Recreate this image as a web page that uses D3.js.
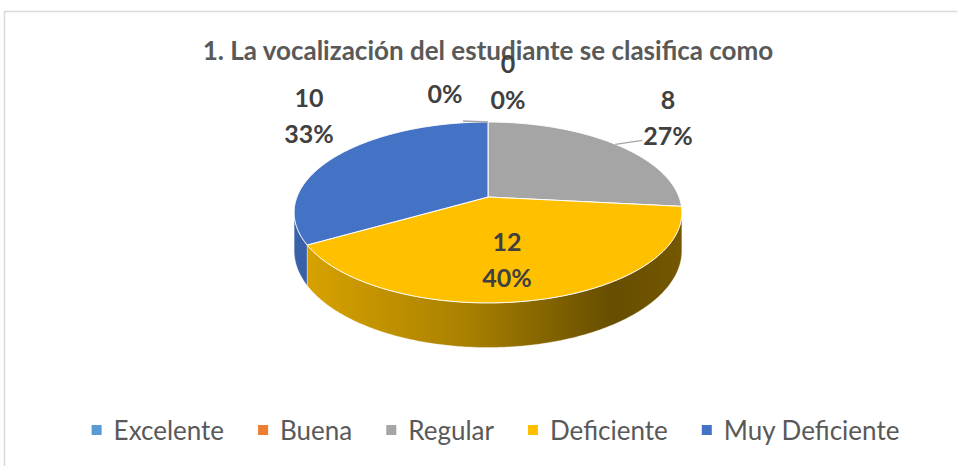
<!DOCTYPE html>
<html>
<head>
<meta charset="utf-8">
<script src="https://cdn.jsdelivr.net/npm/d3@7"></script>
<style>
  body { margin: 0; background: #fff; }
  text { font-family: Lato, "Open Sans", sans-serif; }
</style>
</head>
<body>
<script>
// chart data
var categories = ["Excelente", "Buena", "Regular", "Deficiente", "Muy Deficiente"];
var values = [0, 0, 8, 12, 10];
var colors = ["#5B9BD5", "#ED7D31", "#A5A5A5", "#FFC000", "#4472C4"];
var title = "1. La vocalización del estudiante se clasifica como";

var w = 957, h = 466;

var svg = d3.select("body").append("svg")
    .attr("width", w)
    .attr("height", h);

// chart frame (only top and left edges are inside the picture)
svg.append("rect")
    .attr("x", 4.5).attr("y", 11.5)
    .attr("width", w + 20).attr("height", h + 20)
    .style("fill", "#fff")
    .style("stroke", "#D9D9D9")
    .style("stroke-width", 1.5);

// title
svg.append("text")
    .attr("x", 488).attr("y", 60)
    .attr("text-anchor", "middle")
    .style("font-size", "26px")
    .style("font-weight", "bold")
    .style("fill", "#595959")
    .text(title);

// --- 3D pie geometry: a tilted disc seen in perspective ---
var cx = 488, cy = 197;   // projected centre of the disc
var A = 191, B = 87.8;    // half axes
var P = 0.171;            // perspective strength
var T = 37;               // disc thickness

function proj(theta, r, drop) {
    var u = Math.sin(theta) * r, v = -Math.cos(theta) * r;
    var k = 1 / (1 - P * v);
    return [cx + A * u * k, cy + B * v * k + (drop || 0) * k];
}

function arcPoints(a0, a1, drop) {
    var n = Math.max(2, Math.ceil((a1 - a0) / 0.01));
    return d3.range(n + 1).map(function(i){
        return proj(a0 + (a1 - a0) * i / n, 1, drop);
    });
}

var total = d3.sum(values);
var pie = d3.pie().sort(null).value(function(d){ return d; })
    .startAngle(0).endAngle(2 * Math.PI);
var slices = pie(values).map(function(s, i){
    return { start: s.startAngle, end: s.endAngle, value: s.data, i: i };
});

var line = d3.line();
var color = d3.scaleOrdinal().domain(categories).range(colors);

// wall gradients (lit from the left)
var defs = svg.append("defs");
var shade = [[0, 0.86], [0.45, 0.66], [0.82, 0.40], [1, 0.46]];
slices.forEach(function(s){
    var g = defs.append("linearGradient")
        .attr("id", "wall" + s.i)
        .attr("gradientUnits", "userSpaceOnUse")
        .attr("x1", cx - A * 1.02).attr("x2", cx + A * 1.02)
        .attr("y1", 0).attr("y2", 0);
    var base = d3.rgb(color(categories[s.i]));
    shade.forEach(function(st){
        g.append("stop")
            .attr("offset", st[0])
            .attr("stop-color", d3.rgb(base.r * st[1], base.g * st[1], base.b * st[1]).formatHex());
    });
});

// visible part of the outer wall
var s0 = Math.acos(-P), s1 = 2 * Math.PI - Math.acos(-P);
var walls = svg.append("g");
slices.forEach(function(s){
    var a0 = Math.max(s.start, s0), a1 = Math.min(s.end, s1);
    if (a1 <= a0) return;
    var pts = arcPoints(a0, a1, 0).concat(arcPoints(a0, a1, T).reverse());
    walls.append("path")
        .attr("d", line(pts) + "Z")
        .style("fill", "url(#wall" + s.i + ")")
        .style("stroke", "#fff")
        .style("stroke-width", 0.6)
        .style("stroke-opacity", 0.6);
});

// top faces
var tops = svg.append("g");
slices.forEach(function(s){
    if (s.end - s.start <= 0) return;
    var pts = [[cx, cy]].concat(arcPoints(s.start, s.end, 0));
    tops.append("path")
        .attr("d", line(pts) + "Z")
        .style("fill", color(categories[s.i]))
        .style("stroke", "#fff")
        .style("stroke-width", 1)
        .style("stroke-linejoin", "round");
});

// data labels
var labelLayout = {
    "Excelente":      { x: 445, y: 103, valueShown: false },
    "Buena":          { x: 508, y: 73,  valueShown: true },
    "Regular":        { x: 668, y: 109, valueShown: true },
    "Deficiente":     { x: 507, y: 251, valueShown: true },
    "Muy Deficiente": { x: 309, y: 107, valueShown: true }
};
var lineGap = 35.5;

// leader lines
var leaders = svg.append("g")
    .style("stroke", "#A6A6A6")
    .style("stroke-width", 1.3)
    .style("fill", "none");
var topPt = proj(slices[0].start, 1, 0);
leaders.append("path")
    .attr("d", line([[topPt[0] - 25, topPt[1] - 1], topPt]));
var reg = slices[2], regPt = proj((reg.start + reg.end) / 2, 1, 0);
leaders.append("path")
    .attr("d", line([regPt, [regPt[0] + 27, regPt[1] - 4]]));

var labels = svg.append("g")
    .style("font-size", "25px")
    .style("font-weight", "bold")
    .style("fill", "#404040")
    .attr("text-anchor", "middle");
slices.forEach(function(s){
    var lay = labelLayout[categories[s.i]];
    var pct = Math.round(s.value / total * 100) + "%";
    var lines = lay.valueShown ? [String(s.value), pct] : [pct];
    lines.forEach(function(t, j){
        labels.append("text")
            .attr("x", lay.x)
            .attr("y", lay.y + j * lineGap)
            .text(t);
    });
});

// legend
var legend = svg.append("g")
    .style("font-size", "26px")
    .style("fill", "#595959");
var items = legend.selectAll("g")
    .data(categories)
    .enter().append("g");
items.append("rect")
    .attr("width", 10).attr("height", 10)
    .attr("y", 425)
    .style("fill", function(d){ return color(d); });
items.append("text")
    .attr("x", 22)
    .attr("y", 440)
    .text(function(d){ return d; });
var widths = [];
items.selectAll("text").each(function(){ widths.push(this.getComputedTextLength()); });
var spacing = 34;
var totalW = d3.sum(widths, function(wd){ return 22 + wd; }) + spacing * (widths.length - 1);
var xPos = 495.5 - totalW / 2;
items.attr("transform", function(d, i){
    var x = xPos;
    xPos += 22 + widths[i] + spacing;
    return "translate(" + x + ",0)";
});
</script>
</body>
</html>
